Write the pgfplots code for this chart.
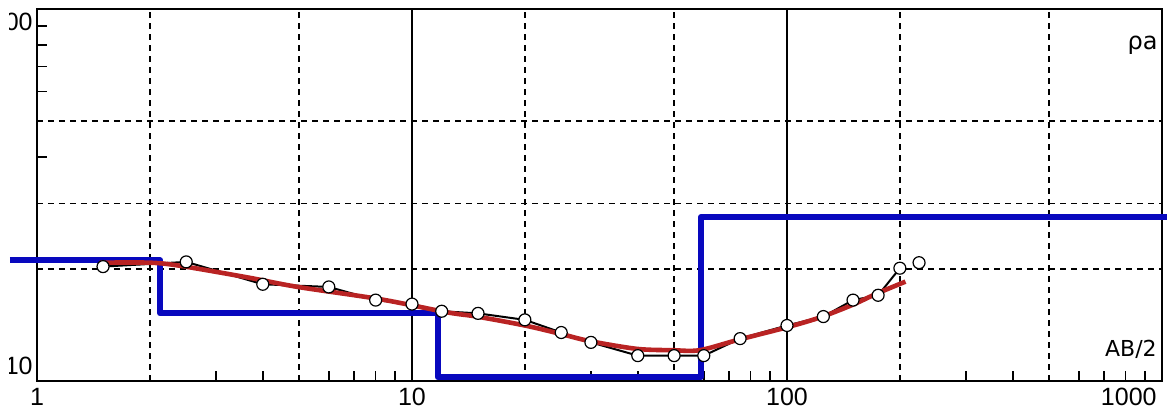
\documentclass[border=0pt]{standalone}
\usepackage{fontspec}
\setmainfont{Liberation Sans}
\newfontfamily\dejavu{DejaVu Sans}
\usepackage{pgfplots}
\pgfplotsset{compat=1.18}
\definecolor{modelblue}{RGB}{8,8,190}
\definecolor{fitred}{RGB}{185,35,35}
\newcommand\ticksz{\fontsize{12.5}{14}\selectfont}
\begin{document}
\begin{tikzpicture}
\begin{scope}
\clip (-13.5pt,-15.5pt) rectangle (565pt,190.5pt);
\begin{axis}[
  at={(0pt,0pt)}, anchor=south west,
  width=562.5pt, height=186pt, scale only axis,
  xmode=log, ymode=log,
  xmin=1, xmax=1000, ymin=10, ymax=100,
  clip=false,
  axis line style={line width=1pt},
  xtick={1,10,100,1000},
  xticklabels={1,10,100,{}},
  ytick={10,100}, yticklabels={{},{}},
  xtick pos=bottom, ytick pos=left,
  tick align=inside,
  major tick length=0pt, minor tick length=5pt,
  minor xtick={3,4,6,7,8,9,30,40,60,70,80,90,300,400,600,700,800,900},
  minor ytick={40,60,70,80,90},
  every tick/.style={black, line width=0.8pt},
  xmajorgrids=true,
  major grid style={black, line width=0.75pt},
  extra x ticks={2,5,20,50,200,500},
  extra x tick labels={},
  extra x tick style={grid=major, major grid style={black, line width=0.9pt, dash pattern=on 3pt off 2.5pt}},
  extra y ticks={20,30,50},
  extra y tick labels={},
  extra y tick style={grid=major, major grid style={black, line width=0.9pt, dash pattern=on 3pt off 2.5pt}},
  xticklabel style={font=\ticksz, inner sep=0pt, yshift=-3.5pt},
]
\addplot[modelblue, line width=3pt, line join=round] coordinates {
(0.847,21.1) (2.13,21.1) (2.13,15.2) (11.7,15.2) (11.7,10.25) (59,10.25) (59,27.6) (1031,27.6)};
\addplot[black, line width=1pt] coordinates {
(1.5,20.3) (2.5,20.9) (4,18.2) (6,17.9) (8,16.5) (10,16.1) (12,15.4) (15,15.2) (20,14.6) (25,13.5) (30,12.7) (40,11.7) (50,11.7) (60,11.7) (75,13.0) (100,14.1) (125,14.9) (150,16.5) (175,17.0) (200,20.1)};
\addplot[only marks, mark=*, mark size=3pt, mark options={fill=white, draw=black, line width=0.6pt}] coordinates {
(1.5,20.3) (2.5,20.9) (4,18.2) (6,17.9) (8,16.5) (10,16.1) (12,15.4) (15,15.2) (20,14.6) (25,13.5) (30,12.7) (40,11.7) (50,11.7) (60,11.7) (75,13.0) (100,14.1) (125,14.9) (150,16.5) (175,17.0) (200,20.1) (225,20.8)};
\addplot[fitred, line width=2.3pt, smooth] coordinates {
(1.47,20.8) (2.0,20.8) (2.41,20.4) (3.63,19.0) (4.96,17.9) (8.2,16.6) (12.4,15.3) (14.9,14.9) (20,14.1) (24.8,13.4) (29.8,12.8) (39.8,12.2) (49.4,12.1) (58.5,12.1) (74,12.9) (98.8,13.9) (122,14.8) (149,16.0) (174,17.2) (207,18.5)};
\node[anchor=south east, inner sep=0pt, font=\ticksz, xshift=-2pt, yshift=3pt] at (rel axis cs:0,0) {10};
\node[anchor=north east, inner sep=0pt, font=\ticksz, xshift=-2pt, yshift=-2pt] at (rel axis cs:0,1) {100};
\node[anchor=north east, inner sep=0pt, font=\ticksz, xshift=-2.5pt, yshift=-3.5pt] at (rel axis cs:1,0) {1000};
\node[anchor=base east, inner sep=0pt, font=\dejavu\fontsize{11}{13}\selectfont] at (rel axis cs:0.9956,0.0645) {AB/2};
\node[anchor=base east, inner sep=0pt, font=\dejavu\fontsize{12}{14}\selectfont] at (rel axis cs:0.9964,0.8898) {ρa};
\end{axis}
\end{scope}
\pgfresetboundingbox
\useasboundingbox (-18.5pt,-15.5pt) rectangle (565pt,190.5pt);
\end{tikzpicture}
\end{document}
